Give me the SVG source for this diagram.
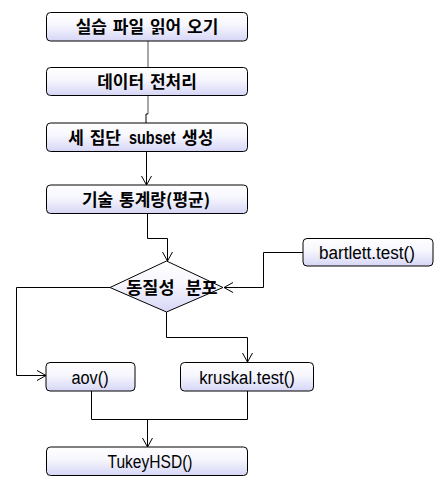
<svg xmlns="http://www.w3.org/2000/svg" width="442" height="497" viewBox="0 0 442 497">
<style>
.box{fill:url(#g);stroke:#000;stroke-width:1}
.ko{font-family:"Noto Sans CJK KR","Noto Sans",sans-serif;font-size:17px;font-weight:bold;fill:#000;text-anchor:middle;word-spacing:2px}
.en{font-family:"Liberation Sans",Arial,sans-serif;font-size:19px;fill:#000;text-anchor:middle}
.ln{fill:none;stroke:#000;stroke-width:1}
.gr{fill:none;stroke:#8a8a8a;stroke-width:1.5}
.ar{marker-end:url(#a)}
</style>
<defs>
<linearGradient id="g" x1="0" y1="0" x2="0" y2="1">
<stop offset="0" stop-color="#ffffff"/>
<stop offset="0.45" stop-color="#f6f6fe"/>
<stop offset="1" stop-color="#d6d6f6"/>
</linearGradient>
<marker id="a" viewBox="-10 -6 11 12" refX="0" refY="0" markerWidth="11" markerHeight="12" markerUnits="userSpaceOnUse" orient="auto">
<path d="M-9,-5 L0,0 L-9,5" fill="none" stroke="#000" stroke-width="1"/>
</marker>
</defs>
<g id="connectors">
<path class="gr" d="M148,41 V68"/>
<path class="gr" d="M148,96 V114"/>
<path class="ln" d="M148,114 H146 V123"/>
<path class="ln ar" d="M146.5,152 V185"/>
<path class="ln ar" d="M147.5,214 V238.5 H167.5 V261"/>
<path class="ln ar" d="M303,252.5 H263.5 V287.5 H224"/>
<path class="ln ar" d="M110,287.5 H16.5 V375.5 H46"/>
<path class="ln ar" d="M166.5,312 V337.5 H247.5 V362"/>
<path class="ln" d="M91.5,391 V419.5 H247.5 V391"/>
<path class="ln ar" d="M147.5,419.5 V447"/>
</g>
<g id="n1"><rect class="box" x="46.5" y="12.5" width="201" height="28.5" rx="4"/><text class="ko" x="147" y="33">실습 파일 읽어 오기</text></g>
<g id="n2"><rect class="box" x="46.5" y="67.5" width="201" height="28" rx="4"/><text class="ko" x="147" y="88">데이터 전처리</text></g>
<g id="n3"><rect class="box" x="46.5" y="123" width="201" height="28.5" rx="4"/><text class="ko" x="121" y="143.5" style="text-anchor:end">세 집단</text><text class="en" transform="translate(129,144) scale(0.76,1)" style="text-anchor:start;font-weight:bold">subset</text><text class="ko" x="182" y="143.5" style="text-anchor:start">생성</text></g>
<g id="n4"><rect class="box" x="46.5" y="185" width="201" height="28.5" rx="4"/><text class="ko" x="146" y="205.5">기술 통계량(평균)</text></g>
<g id="n5"><polygon class="box" points="166.5,261 223,287.5 166.5,312 110,287.5"/><text class="ko" x="172" y="293.5" style="font-size:17.5px;word-spacing:7px">동질성 분포</text></g>
<g id="n6"><rect class="box" x="303" y="238.5" width="130" height="27.5" rx="4"/><text class="en" transform="translate(367,259) scale(0.9,1)">bartlett.test()</text></g>
<g id="n7"><rect class="box" x="46" y="362.5" width="89" height="28.5" rx="4"/><text class="en" transform="translate(90,383.5) scale(0.86,1)">aov()</text></g>
<g id="n8"><rect class="box" x="180.5" y="362.5" width="133" height="28.5" rx="4"/><text class="en" transform="translate(247,383.5) scale(0.88,1)">kruskal.test()</text></g>
<g id="n9"><rect class="box" x="46.5" y="447" width="201" height="28.5" rx="4"/><text class="en" transform="translate(150,468) scale(0.82,1)">TukeyHSD()</text></g>
</svg>
